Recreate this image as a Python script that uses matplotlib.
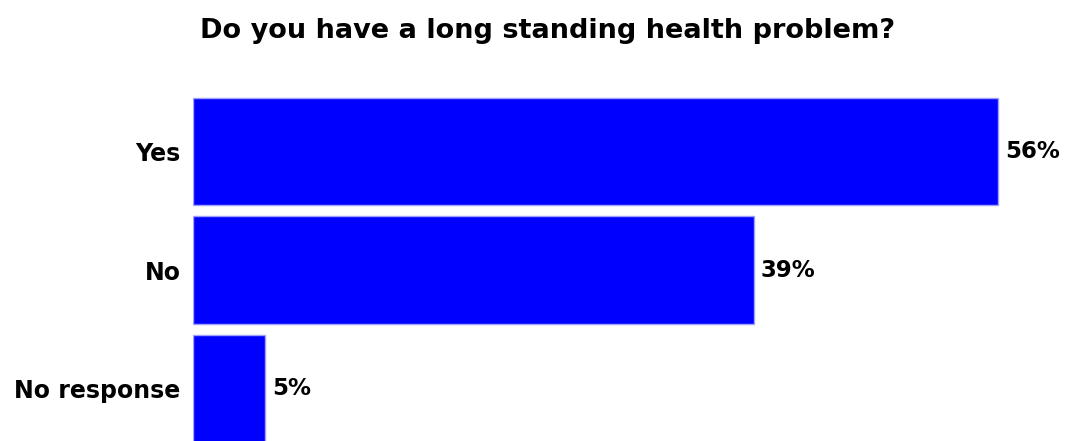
import matplotlib.pyplot as plt

# survey answers
categories = ["Yes", "No", "No response"]
values = [56, 39, 5]
value_labels = ["56%", "39%", "5%"]

fig = plt.figure(figsize=(10.74, 4.41), dpi=100)
ax = fig.add_axes([0.1797, 0.0, 0.8031, 0.7959])

ax.barh(range(len(categories)), values, height=0.91, color="#0000ff",
        edgecolor="#a0a0ff", linewidth=1)
ax.set_xlim(0, 60)
ax.set_ylim(2.443, -0.519)

ax.set_yticks(range(len(categories)))
ax.set_yticklabels(categories, fontsize=17, fontweight="bold")
ax.tick_params(axis="y", length=0, pad=9)
ax.set_xticks([])
for s in ax.spines.values():
    s.set_visible(False)

for i, v in enumerate(values):
    ax.text(v + 0.5, i, value_labels[i], va="center", ha="left",
            fontsize=16.5, fontweight="bold")

fig.text(0.51, 0.93, "Do you have a long standing health problem?",
         ha="center", va="center", fontsize=19.5, fontweight="bold")

fig.savefig("out.png", dpi=100)
